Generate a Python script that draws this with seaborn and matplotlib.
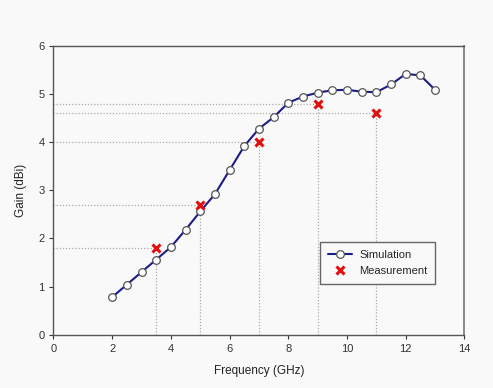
import matplotlib
matplotlib.use("Agg")
import matplotlib.pyplot as plt
import seaborn as sns
import pandas as pd

sim_freq = [2, 2.5, 3, 3.5, 4, 4.5, 5, 5.5, 6, 6.5, 7, 7.5, 8, 8.5, 9, 9.5, 10, 10.5, 11, 11.5, 12, 12.5, 13]
sim_gain = [0.78, 1.04, 1.30, 1.56, 1.82, 2.18, 2.56, 2.92, 3.42, 3.92, 4.28, 4.52, 4.82, 4.95, 5.03, 5.08, 5.09, 5.05, 5.04, 5.20, 5.42, 5.39, 5.09]
meas_freq = [3.5, 5, 7, 9, 11]
meas_gain = [1.8, 2.7, 4.0, 4.8, 4.6]
x_ticks = [0, 2, 4, 6, 8, 10, 12, 14]
y_ticks = [0, 1, 2, 3, 4, 5, 6]

sns.set_style("white")
plt.rcParams['font.family'] = ['Liberation Sans', 'DejaVu Sans']

fig = plt.figure(figsize=(4.93, 3.88), dpi=100, facecolor='#f9f9f9')
ax = fig.add_axes([0.1085, 0.1376, 0.8335, 0.7438])
ax.set_facecolor('#f9f9f9')

sim = pd.DataFrame({"f": sim_freq, "g": sim_gain})
meas = pd.DataFrame({"f": meas_freq, "g": meas_gain})

# dotted guide lines to measurements
for f, g in zip(meas_freq, meas_gain):
    ax.plot([0, f], [g, g], linestyle=(0, (1, 1.5)), color='#aaaaaa', linewidth=0.9, zorder=1)
    ax.plot([f, f], [0, g], linestyle=(0, (1, 1.5)), color='#aaaaaa', linewidth=0.9, zorder=1)

sns.lineplot(data=sim, x="f", y="g", ax=ax, color='#1c1c8a', linewidth=1.5,
             marker='o', markersize=5.5, markerfacecolor='white',
             markeredgecolor='#555555', markeredgewidth=0.9, label='Simulation', zorder=3)
ax.plot(meas["f"], meas["g"], linestyle='none', marker='x', color='#e01010',
        markersize=6, markeredgewidth=2.2, label='Measurement', zorder=4)

ax.set_xlim(0, 14)
ax.set_ylim(0, 6)
ax.set_xticks(x_ticks)
ax.set_yticks(y_ticks)
ax.tick_params(axis='both', labelsize=8, colors='#333333', length=3, direction='out',
               bottom=True, left=True, width=0.8)
ax.set_xlabel("Frequency (GHz)", fontsize=8.5, color='#222222', labelpad=8)
ax.set_ylabel("Gain (dBi)", fontsize=8.5, color='#222222', labelpad=8)

for side in ['left', 'bottom', 'top']:
    ax.spines[side].set_color('#555555')
    ax.spines[side].set_linewidth(1.0)
ax.spines['right'].set_color('#888888')
ax.spines['right'].set_linewidth(1.4)

leg = ax.legend(loc='upper left', bbox_to_anchor=(0.649, 0.32), fontsize=8,
                frameon=True, fancybox=False, edgecolor='#666666', framealpha=1,
                facecolor='#f9f9f9', handlelength=2.2, borderpad=0.7, labelspacing=0.55,
                handletextpad=0.6, borderaxespad=0)
leg.get_frame().set_linewidth(1.0)

fig.savefig("out.png", dpi=100, facecolor=fig.get_facecolor())
